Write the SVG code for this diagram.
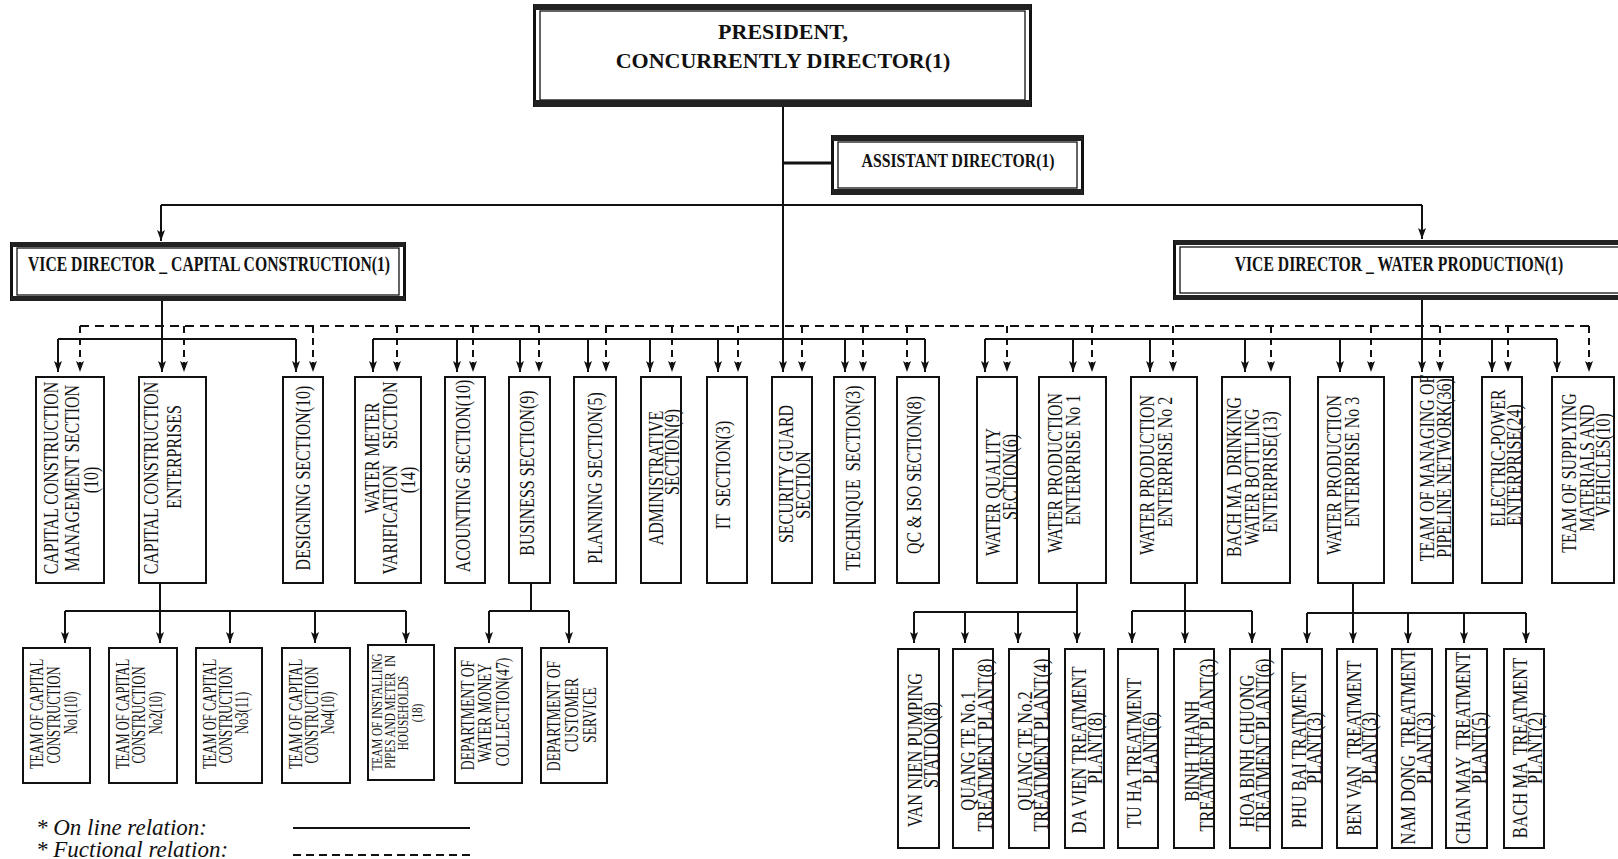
<svg xmlns="http://www.w3.org/2000/svg" width="1618" height="859" viewBox="0 0 1618 859">
<defs>
<marker id="ah" markerUnits="userSpaceOnUse" markerWidth="12" markerHeight="10" refX="11" refY="4" orient="auto" overflow="visible">
<path d="M0,0 L11,4 L0,8 L2.5,4 z" fill="#111" stroke="none"/>
</marker>
</defs>
<style>
.bx{fill:#fff;stroke:#111;stroke-width:2}
.ob{fill:none;stroke:#111;stroke-width:3}
.ib{fill:none;stroke:#111;stroke-width:1.3}
.band{fill:#222}
.t{font-family:"Liberation Serif","Times New Roman",serif;fill:#111;text-anchor:middle;white-space:pre}
.tb{font-weight:bold}
.m{font-size:21px}
.bl{font-size:18px}
.bs{font-size:14px}
.br{font-size:21px}
.ln{fill:none;stroke:#111;stroke-width:2}
.ar{fill:none;stroke:#111;stroke-width:2;marker-end:url(#ah)}
.ds{fill:none;stroke:#111;stroke-width:2;stroke-dasharray:9 6}
.da{fill:none;stroke:#111;stroke-width:2;stroke-dasharray:7 5;marker-end:url(#ah)}
.lg{font-family:"Liberation Serif","Times New Roman",serif;font-style:italic;font-size:23px;fill:#111}
</style>

<g id="connectors">
<path class="ar" d="M783,107 V372"/>
<path class="ln" style="stroke-width:3" d="M783,163 H831"/>
<path class="ln" d="M161,205 H1422"/>
<path class="ar" d="M161,205 V241"/>
<path class="ar" d="M1422,205 V239"/>
<path class="ar" d="M162,301 V372"/>
<path class="ar" d="M1422,300 V372"/>
<path class="ln" d="M58,339 H296"/>
<path class="ln" d="M373,339 H925"/>
<path class="ln" d="M985,339 H1557"/>
<path class="ar" d="M58,339 V372"/>
<path class="ar" d="M296,339 V372"/>
<path class="ar" d="M373,339 V372"/>
<path class="ar" d="M457,339 V372"/>
<path class="ar" d="M520,339 V372"/>
<path class="ar" d="M588,339 V372"/>
<path class="ar" d="M650,339 V372"/>
<path class="ar" d="M718,339 V372"/>
<path class="ar" d="M845,339 V372"/>
<path class="ar" d="M925,339 V372"/>
<path class="ar" d="M985,339 V372"/>
<path class="ar" d="M1073,339 V372"/>
<path class="ar" d="M1150,339 V372"/>
<path class="ar" d="M1245,339 V372"/>
<path class="ar" d="M1340,339 V372"/>
<path class="ar" d="M1492,339 V372"/>
<path class="ar" d="M1557,339 V372"/>
<path class="ds" d="M80,326 H1589"/>
<path class="da" d="M80,326 V372"/>
<path class="da" d="M184,326 V372"/>
<path class="da" d="M313,326 V372"/>
<path class="da" d="M397,326 V372"/>
<path class="da" d="M473,326 V372"/>
<path class="da" d="M539,326 V372"/>
<path class="da" d="M606,326 V372"/>
<path class="da" d="M672,326 V372"/>
<path class="da" d="M738,326 V372"/>
<path class="da" d="M802,326 V372"/>
<path class="da" d="M863,326 V372"/>
<path class="da" d="M907,326 V372"/>
<path class="da" d="M1007,326 V372"/>
<path class="da" d="M1092,326 V372"/>
<path class="da" d="M1173,326 V372"/>
<path class="da" d="M1271,326 V372"/>
<path class="da" d="M1371,326 V372"/>
<path class="da" d="M1440,326 V372"/>
<path class="da" d="M1508,326 V372"/>
<path class="da" d="M1589,326 V372"/>
<path class="ar" d="M160,583 V643"/>
<path class="ln" d="M65,611 H406"/>
<path class="ar" d="M65,611 V643"/>
<path class="ar" d="M230,611 V643"/>
<path class="ar" d="M315,611 V643"/>
<path class="ar" d="M406,611 V643"/>
<path class="ln" d="M531,583 V611 M489,611 H569"/>
<path class="ar" d="M489,611 V643"/>
<path class="ar" d="M569,611 V643"/>
<path class="ar" d="M1077,583 V643"/>
<path class="ln" d="M914,612 H1077"/>
<path class="ar" d="M914,612 V643"/>
<path class="ar" d="M965,612 V643"/>
<path class="ar" d="M1018,612 V643"/>
<path class="ar" d="M1185,583 V643"/>
<path class="ln" d="M1132,611 H1252"/>
<path class="ar" d="M1132,611 V643"/>
<path class="ar" d="M1252,611 V643"/>
<path class="ar" d="M1353,583 V643"/>
<path class="ln" d="M1307,613 H1526"/>
<path class="ar" d="M1307,613 V643"/>
<path class="ar" d="M1408,613 V643"/>
<path class="ar" d="M1464,613 V643"/>
<path class="ar" d="M1526,613 V643"/>
</g>

<g id="president">
<rect x="534.5" y="5.5" width="496" height="100" fill="#fff" class="ob"/>
<rect x="540" y="11" width="485" height="89" class="ib"/>
<rect x="534" y="4" width="497" height="6" class="band"/>
<rect x="534" y="100" width="497" height="7" class="band"/>
<text class="t tb" font-size="22" x="783" y="39">PRESIDENT,</text>
<text class="t tb" font-size="22" x="783" y="68">CONCURRENTLY DIRECTOR(1)</text>
</g>

<g id="assistant">
<rect x="832.5" y="136.5" width="250" height="57" fill="#fff" class="ob"/>
<rect x="838" y="142" width="239" height="46" class="ib"/>
<rect x="832" y="135" width="251" height="6" class="band"/>
<rect x="832" y="189" width="251" height="6" class="band"/>
<text class="t tb" font-size="19" transform="translate(958,167) scale(0.83,1)">ASSISTANT DIRECTOR(1)</text>
</g>

<g id="vd-cc">
<rect x="11.5" y="243.5" width="393" height="56" fill="#fff" class="ob"/>
<rect x="17" y="248" width="382" height="47" class="ib"/>
<rect x="11" y="242" width="394" height="5" class="band"/>
<rect x="11" y="296" width="394" height="5" class="band"/>
<text class="t tb" font-size="20" transform="translate(209,271) scale(0.785,1)">VICE DIRECTOR _ CAPITAL CONSTRUCTION(1)</text>
</g>

<g id="vd-wp">
<rect x="1174.5" y="241.5" width="460" height="57" fill="#fff" class="ob"/>
<rect x="1180" y="247" width="460" height="46" class="ib"/>
<rect x="1174" y="240" width="450" height="5" class="band"/>
<rect x="1174" y="295" width="450" height="5" class="band"/>
<text class="t tb" font-size="20" transform="translate(1399,271) scale(0.785,1)">VICE DIRECTOR _ WATER PRODUCTION(1)</text>
</g>

<g id="n-ccms"><rect class="bx" x="36" y="377" width="68" height="206"/>
<text class="t m" transform="translate(58,478) rotate(-90) scale(0.76,1)">CAPITAL CONSTRUCTION</text>
<text class="t m" transform="translate(79,478) rotate(-90) scale(0.76,1)">MANAGEMENT SECTION</text>
<text class="t m" transform="translate(98,480) rotate(-90) scale(0.76,1)">(10)</text></g>
<g id="n-cce"><rect class="bx" x="139" y="377" width="67" height="206"/>
<text class="t m" transform="translate(158,478) rotate(-90) scale(0.76,1)">CAPITAL CONSTRUCTION</text>
<text class="t m" transform="translate(181,457) rotate(-90) scale(0.76,1)">ENTERPRISES</text></g>
<g id="n-design"><rect class="bx" x="283" y="377" width="40" height="206"/>
<text class="t m" transform="translate(310,478) rotate(-90) scale(0.76,1)">DESIGNING SECTION(10)</text></g>
<g id="n-meter"><rect class="bx" x="355" y="377" width="66" height="206"/>
<text class="t m" transform="translate(379,458) rotate(-90) scale(0.76,1)">WATER METER</text>
<text class="t m" transform="translate(397,478) rotate(-90) scale(0.76,1)">VARIFICATION    SECTION</text>
<text class="t m" transform="translate(415,480) rotate(-90) scale(0.76,1)">(14)</text></g>
<g id="n-acc"><rect class="bx" x="445" y="377" width="40" height="206"/>
<text class="t m" transform="translate(470,476) rotate(-90) scale(0.76,1)">ACOUNTING SECTION(10)</text></g>
<g id="n-bus"><rect class="bx" x="509" y="377" width="41" height="206"/>
<text class="t m" transform="translate(534,473) rotate(-90) scale(0.76,1)">BUSINESS SECTION(9)</text></g>
<g id="n-plan"><rect class="bx" x="574" y="377" width="42" height="206"/>
<text class="t m" transform="translate(602,478) rotate(-90) scale(0.76,1)">PLANNING SECTION(5)</text></g>
<g id="n-admin"><rect class="bx" x="641" y="377" width="40" height="206"/>
<text class="t m" transform="translate(663,478) rotate(-90) scale(0.76,1)">ADMINISTRATIVE</text>
<text class="t m" transform="translate(679,452) rotate(-90) scale(0.76,1)">SECTION(9)</text></g>
<g id="n-it"><rect class="bx" x="707" y="377" width="40" height="206"/>
<text class="t m" transform="translate(730,475) rotate(-90) scale(0.76,1)">IT  SECTION(3)</text></g>
<g id="n-sec"><rect class="bx" x="772" y="377" width="40" height="206"/>
<text class="t m" transform="translate(793,474) rotate(-90) scale(0.76,1)">SECURITY GUARD</text>
<text class="t m" transform="translate(810,485) rotate(-90) scale(0.76,1)">SECTION</text></g>
<g id="n-tech"><rect class="bx" x="834" y="377" width="41" height="206"/>
<text class="t m" transform="translate(860,478) rotate(-90) scale(0.76,1)">TECHNIQUE  SECTION(3)</text></g>
<g id="n-qc"><rect class="bx" x="897" y="377" width="42" height="206"/>
<text class="t m" transform="translate(921,475) rotate(-90) scale(0.76,1)">QC &amp; ISO SECTION(8)</text></g>
<g id="n-wq"><rect class="bx" x="977" y="377" width="40" height="206"/>
<text class="t m" transform="translate(1000,492) rotate(-90) scale(0.76,1)">WATER QUALITY</text>
<text class="t m" transform="translate(1017,477) rotate(-90) scale(0.76,1)">SECTION(6)</text></g>
<g id="n-wpe1"><rect class="bx" x="1039" y="377" width="67" height="206"/>
<text class="t m" transform="translate(1062,473) rotate(-90) scale(0.76,1)">WATER PRODUCTION</text>
<text class="t m" transform="translate(1080,460) rotate(-90) scale(0.76,1)">ENTERPRISE No 1</text></g>
<g id="n-wpe2"><rect class="bx" x="1131" y="377" width="66" height="206"/>
<text class="t m" transform="translate(1154,475) rotate(-90) scale(0.76,1)">WATER PRODUCTION</text>
<text class="t m" transform="translate(1172,462) rotate(-90) scale(0.76,1)">ENTERPRISE No 2</text></g>
<g id="n-bachma"><rect class="bx" x="1222" y="377" width="68" height="206"/>
<text class="t m" transform="translate(1241,477) rotate(-90) scale(0.76,1)">BACH MA  DRINKING</text>
<text class="t m" transform="translate(1259,477) rotate(-90) scale(0.76,1)">WATER BOTTLING</text>
<text class="t m" transform="translate(1277,472) rotate(-90) scale(0.76,1)">ENTERPRISE(13)</text></g>
<g id="n-wpe3"><rect class="bx" x="1318" y="377" width="66" height="206"/>
<text class="t m" transform="translate(1341,475) rotate(-90) scale(0.76,1)">WATER PRODUCTION</text>
<text class="t m" transform="translate(1359,462) rotate(-90) scale(0.76,1)">ENTERPRISE No 3</text></g>
<g id="n-pipe"><rect class="bx" x="1412" y="377" width="41" height="206"/>
<text class="t m" transform="translate(1434,468) rotate(-90) scale(0.76,1)">TEAM OF MANAGING OF</text>
<text class="t m" transform="translate(1451,468) rotate(-90) scale(0.76,1)">PIPELINE NETWORK(36)</text></g>
<g id="n-elec"><rect class="bx" x="1482" y="377" width="40" height="206"/>
<text class="t m" transform="translate(1505,458) rotate(-90) scale(0.76,1)">ELECTRIC-POWER</text>
<text class="t m" transform="translate(1521,465) rotate(-90) scale(0.76,1)">ENTERPRISE(24)</text></g>
<g id="n-supply"><rect class="bx" x="1552" y="377" width="62" height="206"/>
<text class="t m" transform="translate(1576,473) rotate(-90) scale(0.76,1)">TEAM OF SUPPLYING</text>
<text class="t m" transform="translate(1594,468) rotate(-90) scale(0.76,1)">MATERIALS AND</text>
<text class="t m" transform="translate(1610,465) rotate(-90) scale(0.76,1)">VEHICLES(10)</text></g>

<g id="b-t1"><rect class="bx" x="23" y="648" width="67" height="135"/>
<text class="t bl" transform="translate(43,714) rotate(-90) scale(0.7,1)">TEAM OF CAPITAL</text>
<text class="t bl" transform="translate(60,715) rotate(-90) scale(0.7,1)">CONSTRUCTION</text>
<text class="t bl" transform="translate(77,713) rotate(-90) scale(0.7,1)">No1(10)</text></g>
<g id="b-t2"><rect class="bx" x="109" y="648" width="68" height="135"/>
<text class="t bl" transform="translate(129,714) rotate(-90) scale(0.7,1)">TEAM OF CAPITAL</text>
<text class="t bl" transform="translate(145,715) rotate(-90) scale(0.7,1)">CONSTRUCTION</text>
<text class="t bl" transform="translate(162,713) rotate(-90) scale(0.7,1)">No2(10)</text></g>
<g id="b-t3"><rect class="bx" x="196" y="648" width="66" height="135"/>
<text class="t bl" transform="translate(216,714) rotate(-90) scale(0.7,1)">TEAM OF CAPITAL</text>
<text class="t bl" transform="translate(232,715) rotate(-90) scale(0.7,1)">CONSTRUCTION</text>
<text class="t bl" transform="translate(248,713) rotate(-90) scale(0.7,1)">No3(11)</text></g>
<g id="b-t4"><rect class="bx" x="282" y="648" width="68" height="135"/>
<text class="t bl" transform="translate(302,714) rotate(-90) scale(0.7,1)">TEAM OF CAPITAL</text>
<text class="t bl" transform="translate(318,715) rotate(-90) scale(0.7,1)">CONSTRUCTION</text>
<text class="t bl" transform="translate(334,713) rotate(-90) scale(0.7,1)">No4(10)</text></g>
<g id="b-install"><rect class="bx" x="368" y="645" width="66" height="135"/>
<text class="t bs" transform="translate(382,712) rotate(-90) scale(0.8,1)">TEAM OF INSTALLING</text>
<text class="t bs" transform="translate(395,712) rotate(-90) scale(0.8,1)">PIPES AND METER  IN</text>
<text class="t bs" transform="translate(408,713) rotate(-90) scale(0.8,1)">HOUSEHOLDS</text>
<text class="t bs" transform="translate(422,713) rotate(-90) scale(0.8,1)">(18)</text></g>
<g id="b-money"><rect class="bx" x="455" y="648" width="67" height="135"/>
<text class="t bl" transform="translate(474,715) rotate(-90) scale(0.76,1)">DEPARTMENT OF</text>
<text class="t bl" transform="translate(491,713) rotate(-90) scale(0.76,1)">WATER MONEY</text>
<text class="t bl" transform="translate(509,712) rotate(-90) scale(0.76,1)">COLLECTION(47)</text></g>
<g id="b-cust"><rect class="bx" x="541" y="648" width="66" height="135"/>
<text class="t bl" transform="translate(560,716) rotate(-90) scale(0.76,1)">DEPARTMENT OF</text>
<text class="t bl" transform="translate(578,715) rotate(-90) scale(0.76,1)">CUSTOMER</text>
<text class="t bl" transform="translate(596,715) rotate(-90) scale(0.76,1)">SERVICE</text></g>

<g id="r-vannien"><rect class="bx" x="898" y="649" width="41" height="199"/>
<text class="t br" transform="translate(922,750) rotate(-90) scale(0.78,1)">VAN NIEN PUMPING</text>
<text class="t br" transform="translate(938,745) rotate(-90) scale(0.78,1)">STATION(8)</text></g>
<g id="r-qt1"><rect class="bx" x="953" y="649" width="40" height="199"/>
<text class="t br" transform="translate(975,751) rotate(-90) scale(0.78,1)">QUANG TE No.1</text>
<text class="t br" transform="translate(992,745) rotate(-90) scale(0.78,1)">TREATMENT PLANT(8)</text></g>
<g id="r-qt2"><rect class="bx" x="1009" y="649" width="40" height="199"/>
<text class="t br" transform="translate(1032,751) rotate(-90) scale(0.78,1)">QUANG TE No.2</text>
<text class="t br" transform="translate(1048,745) rotate(-90) scale(0.78,1)">TREATMENT PLANT(4)</text></g>
<g id="r-davien"><rect class="bx" x="1065" y="649" width="39" height="199"/>
<text class="t br" transform="translate(1086,750) rotate(-90) scale(0.78,1)">DA VIEN TREATMENT</text>
<text class="t br" transform="translate(1102,748) rotate(-90) scale(0.78,1)">PLANT(8)</text></g>
<g id="r-tuha"><rect class="bx" x="1118" y="649" width="40" height="199"/>
<text class="t br" transform="translate(1141,753) rotate(-90) scale(0.78,1)">TU HA TREATMENT</text>
<text class="t br" transform="translate(1157,748) rotate(-90) scale(0.78,1)">PLANT(6)</text></g>
<g id="r-binhthanh"><rect class="bx" x="1174" y="649" width="40" height="199"/>
<text class="t br" transform="translate(1199,751) rotate(-90) scale(0.78,1)">BINH THANH</text>
<text class="t br" transform="translate(1214,745) rotate(-90) scale(0.78,1)">TREATMENT PLANT(3)</text></g>
<g id="r-hoabinh"><rect class="bx" x="1230" y="649" width="40" height="199"/>
<text class="t br" transform="translate(1254,751) rotate(-90) scale(0.78,1)">HOA BINH CHUONG</text>
<text class="t br" transform="translate(1270,745) rotate(-90) scale(0.78,1)">TREATMENT PLANT(6)</text></g>
<g id="r-phubai"><rect class="bx" x="1282" y="649" width="40" height="199"/>
<text class="t br" transform="translate(1306,750) rotate(-90) scale(0.78,1)">PHU BAI TRATMENT</text>
<text class="t br" transform="translate(1321,748) rotate(-90) scale(0.78,1)">PLANT(3)</text></g>
<g id="r-benvan"><rect class="bx" x="1337" y="649" width="40" height="199"/>
<text class="t br" transform="translate(1361,748) rotate(-90) scale(0.78,1)">BEN VAN  TREATMENT</text>
<text class="t br" transform="translate(1376,748) rotate(-90) scale(0.78,1)">PLANT(3)</text></g>
<g id="r-namdong"><rect class="bx" x="1392" y="649" width="40" height="199"/>
<text class="t br" transform="translate(1415,747) rotate(-90) scale(0.78,1)">NAM DONG  TREATMENT</text>
<text class="t br" transform="translate(1431,748) rotate(-90) scale(0.78,1)">PLANT(3)</text></g>
<g id="r-chanmay"><rect class="bx" x="1446" y="649" width="41" height="199"/>
<text class="t br" transform="translate(1470,748) rotate(-90) scale(0.78,1)">CHAN MAY  TREATMENT</text>
<text class="t br" transform="translate(1486,748) rotate(-90) scale(0.78,1)">PLANT(5)</text></g>
<g id="r-bachma"><rect class="bx" x="1504" y="649" width="40" height="199"/>
<text class="t br" transform="translate(1527,748) rotate(-90) scale(0.78,1)">BACH MA  TREATMENT</text>
<text class="t br" transform="translate(1542,748) rotate(-90) scale(0.78,1)">PLANT(2)</text></g>

<g id="legend">
<text class="lg" x="36" y="835">* On line relation:</text>
<text class="lg" x="36" y="857">* Fuctional relation:</text>
<path class="ln" d="M293,828 H470"/>
<path class="ds" d="M293,855 H470" style="stroke-dasharray:8 5"/>
</g>
</svg>
